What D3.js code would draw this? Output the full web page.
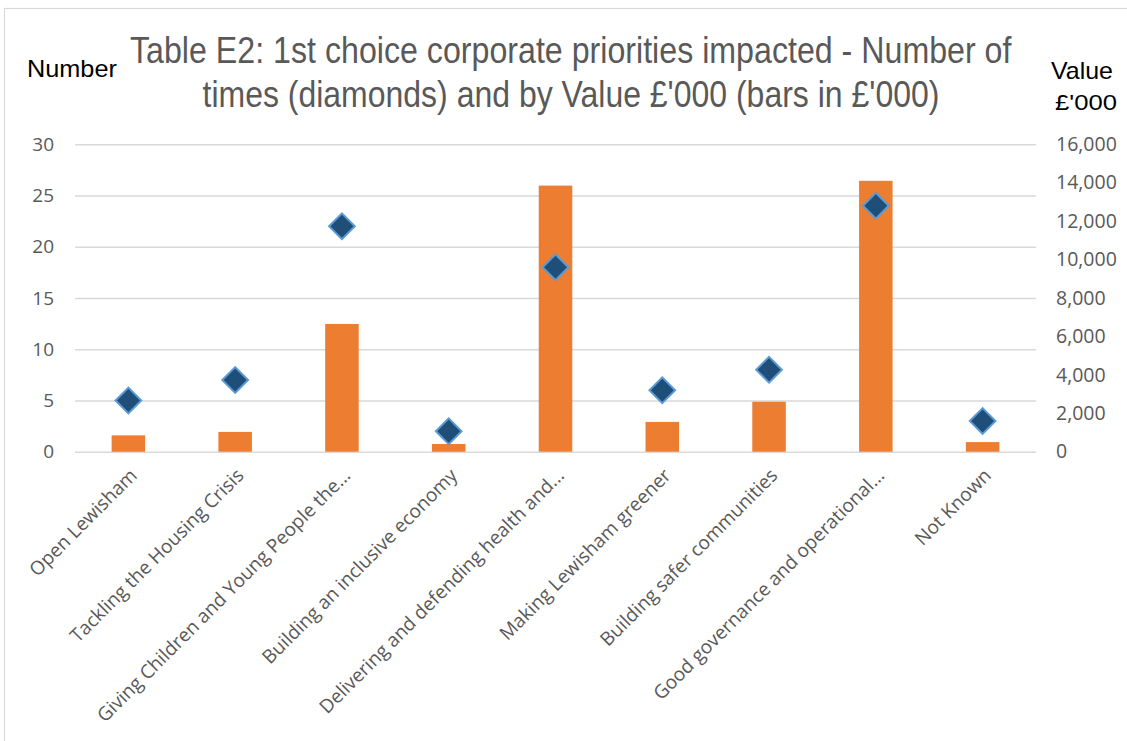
<!DOCTYPE html>
<html>
<head>
<meta charset="utf-8">
<script src="https://cdn.jsdelivr.net/npm/d3@7"></script>
<style>
  html, body { margin: 0; padding: 0; background: #ffffff; }
  svg { display: block; }
</style>
</head>
<body>
<svg id="chart" width="1127" height="741"></svg>
<script>
// Corporate priorities: count of first choices (diamonds) and value in £'000 (bars)
const categories = [
  "Open Lewisham",
  "Tackling the Housing Crisis",
  "Giving Children and Young People the...",
  "Building an inclusive economy",
  "Delivering and defending health and...",
  "Making Lewisham greener",
  "Building safer communities",
  "Good governance and operational...",
  "Not Known"
];
const counts = [5, 7, 22, 2, 18, 6, 8, 24, 3];
const values = [850, 1030, 6650, 400, 13850, 1550, 2600, 14100, 500];
const countTicks = [0, 5, 10, 15, 20, 25, 30];
const valueTicks = [0, 2000, 4000, 6000, 8000, 10000, 12000, 14000, 16000];
const titleLines = [
  "Table E2: 1st choice corporate priorities impacted - Number of",
  "times (diamonds) and by Value £'000 (bars in £'000)"
];

const svg = d3.select("#chart");
const W = 1127, H = 741;
const plot = { left: 75, right: 1036, top: 144.3, bottom: 451.7 };

const textColor = "#595959";
const gridColor = "#d9d9d9";
const tickFont = "'Open Sans', 'Noto Sans', sans-serif";
const titleFont = "'Liberation Sans Narrow', 'Liberation Sans', Arial, sans-serif";

// Chart frame
svg.append("rect")
  .attr("x", 4.5).attr("y", 8.5)
  .attr("width", W + 20).attr("height", H + 20)
  .attr("fill", "none").attr("stroke", gridColor).attr("stroke-width", 1.2);

const x = d3.scaleBand().domain(categories)
  .range([plot.left, plot.right]).paddingInner(0.686).paddingOuter(0.343);
const band = d3.scaleBand().domain(categories).range([plot.left, plot.right]);
const yCount = d3.scaleLinear().domain([0, 30]).range([plot.bottom, plot.top]);
const yValue = d3.scaleLinear().domain([0, 16000]).range([plot.bottom, plot.top]);

// Gridlines and left axis labels
const leftAxis = d3.axisLeft(yCount).tickValues(countTicks)
  .tickSize(-(plot.right - plot.left)).tickPadding(21);
const gLeft = svg.append("g").attr("transform", `translate(${plot.left},0)`).call(leftAxis);
gLeft.select(".domain").remove();
gLeft.selectAll(".tick line").attr("stroke", gridColor).attr("stroke-width", 1.4);
gLeft.selectAll(".tick text")
  .attr("fill", textColor).style("font-family", tickFont).style("font-size", "19px");

// Right axis labels
const rightAxis = d3.axisRight(yValue).tickValues(valueTicks)
  .tickSize(0).tickPadding(20).tickFormat(d3.format(","));
const gRight = svg.append("g").attr("transform", `translate(${plot.right},0)`).call(rightAxis);
gRight.select(".domain").remove();
gRight.selectAll(".tick text")
  .attr("fill", textColor).style("font-family", tickFont).style("font-size", "19.5px");

// Bars (value, right axis)
svg.append("g").selectAll("rect")
  .data(categories)
  .join("rect")
  .attr("x", d => x(d))
  .attr("width", x.bandwidth())
  .attr("y", (d, i) => yValue(values[i]))
  .attr("height", (d, i) => yValue(0) - yValue(values[i]))
  .attr("fill", "#ed7d31");

// Diamonds (count, left axis)
const diamond = d3.symbol().type(d3.symbolSquare).size(330);
svg.append("g").selectAll("path")
  .data(categories)
  .join("path")
  .attr("d", diamond)
  .attr("transform", (d, i) =>
    `translate(${band(d) + band.bandwidth() / 2},${yCount(counts[i])}) rotate(45)`)
  .attr("fill", "#1f4e79")
  .attr("stroke", "#5b9bd5")
  .attr("stroke-width", 2);

// Category labels
const gX = svg.append("g");
gX.selectAll("text")
  .data(categories)
  .join("text")
  .attr("transform", d => `translate(${band(d) + band.bandwidth() / 2 + 5},472) rotate(-45)`)
  .attr("text-anchor", "end")
  .attr("dy", "0.35em")
  .attr("fill", textColor)
  .style("font-family", tickFont)
  .style("font-size", "19px")
  .text(d => d);

// Text squeezed horizontally to a target width, starting at x0
function fittedText(str, x0, baseline, width, size, color) {
  const g = svg.append("g");
  const t = g.append("text")
    .attr("x", 0).attr("y", 0)
    .attr("fill", color)
    .style("font-family", titleFont)
    .style("font-size", size + "px")
    .text(str);
  const natural = t.node().getComputedTextLength();
  g.attr("transform", `translate(${x0},${baseline}) scale(${width / natural},1)`);
}

// Title
const titleWidths = [882, 737];
const titleBaselines = [63, 107];
titleLines.forEach((line, i) => {
  fittedText(line, 571 - titleWidths[i] / 2, titleBaselines[i], titleWidths[i], 37, textColor);
});

// Axis titles
fittedText("Number", 27, 77, 90, 23, "#000000");
fittedText("Value", 1051, 79, 62, 23, "#000000");
fittedText("£'000", 1055, 110, 62, 23, "#000000");
</script>
</body>
</html>
